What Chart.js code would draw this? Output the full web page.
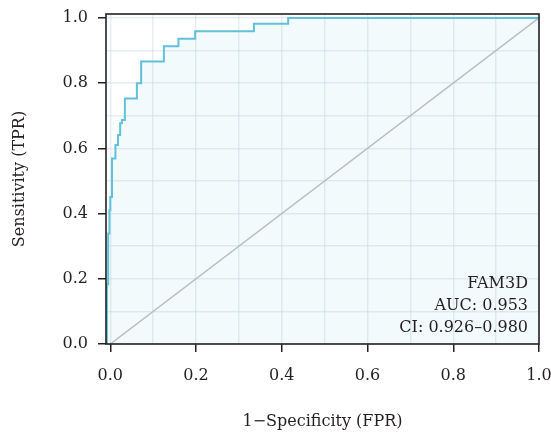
<!DOCTYPE html>
<html>
<head>
<meta charset="utf-8">
<script src="https://cdn.jsdelivr.net/npm/chart.js@4/dist/chart.umd.min.js"></script>
<style>
    html, body { margin: 0; padding: 0; background: #ffffff; }
</style>
</head>
<body>
<canvas id="roc" width="551" height="436"></canvas>
<script>
"use strict";

// ROC curve corners (FPR, TPR)
var fpr = [-0.008, -0.008, -0.005, -0.002, 0.0, 0.004, 0.012, 0.018, 0.023, 0.027, 0.034, 0.062, 0.072, 0.125, 0.159, 0.198, 0.335, 0.415, 1.0];
var tpr = [0.0, 0.183, 0.339, 0.41, 0.451, 0.569, 0.61, 0.641, 0.677, 0.687, 0.753, 0.80, 0.866, 0.913, 0.936, 0.959, 0.982, 1.0, 1.0];

// chance line
var chanceFpr = [0.0, 1.0];
var chanceTpr = [0.0, 1.0];

var gridValues = [0.0, 0.1, 0.2, 0.3, 0.4, 0.5, 0.6, 0.7, 0.8, 0.9, 1.0];
var tickLabels = ["0.0", "0.2", "0.4", "0.6", "0.8", "1.0"];
var annotationLines = ["FAM3D", "AUC: 0.953", "CI: 0.926\u20130.980"];

var FONT = "'DejaVu Serif', 'Liberation Serif', serif";
var TEXT_COLOR = "#231f20";

function toPoints(xs, ys) {
    var pts = [];
    for (var i = 0; i < xs.length; i++) {
        pts.push({x: xs[i], y: ys[i]});
    }
    return pts;
}

function isMajor(value) {
    return tickLabels.indexOf(Number(value).toFixed(1)) !== -1;
}

function axisOptions(min, max, title, isX) {
    return {
        type: "linear",
        min: min,
        max: max,
        afterBuildTicks: function (axis) {
            axis.ticks = gridValues.map(function (v) { return {value: v}; });
        },
        afterFit: function (axis) {
            // fixed box sizes so the plot frame lands where the figure has it
            if (isX) {
                axis.height = 92;
                axis.paddingLeft = 0;
                axis.paddingRight = 0;
            } else {
                axis.width = 106;
                axis.paddingTop = 0;
                axis.paddingBottom = 0;
            }
        },
        border: {display: false},
        grid: {
            color: "rgba(190, 210, 222, 0.38)",
            lineWidth: 1.5,
            tickLength: 8,
            tickWidth: 1.5,
            tickColor: function (ctx) {
                return isMajor(ctx.tick.value) ? "#222222" : "rgba(0,0,0,0)";
            },
        },
        ticks: {
            autoSkip: false,
            maxRotation: 0,
            padding: isX ? 14 : 10,
            color: TEXT_COLOR,
            font: {family: FONT, size: 16},
            callback: function (value) {
                return isMajor(value) ? Number(value).toFixed(1) : "";
            },
        },
        title: {
            display: true,
            text: title,
            color: TEXT_COLOR,
            font: {family: FONT, size: 16},
            padding: isX ? {top: 0, bottom: 5} : {top: 10, bottom: 0},
        },
    };
}

var frameAndLabel = {
    id: "frameAndLabel",
    afterDatasetsDraw: function (chart) {
        var ctx = chart.ctx;
        var area = chart.chartArea;
        ctx.save();
        ctx.strokeStyle = "#222222";
        ctx.lineWidth = 1.6;
        ctx.strokeRect(area.left, area.top, area.right - area.left, area.bottom - area.top);
        ctx.fillStyle = TEXT_COLOR;
        ctx.font = "16px " + FONT;
        ctx.textAlign = "right";
        ctx.textBaseline = "alphabetic";
        var n = annotationLines.length;
        for (var i = 0; i < n; i++) {
            ctx.fillText(annotationLines[i], area.right - 11, area.bottom - 12 - (n - 1 - i) * 22);
        }
        ctx.restore();
    },
};

new Chart(document.getElementById("roc"), {
    type: "line",
    data: {
        datasets: [
            {
                label: "FAM3D",
                data: toPoints(fpr, tpr),
                stepped: "before",
                borderColor: "#5ec2da",
                borderWidth: 2,
                backgroundColor: "rgba(120, 200, 225, 0.09)",
                fill: "origin",
                pointRadius: 0,
            },
            {
                label: "Chance",
                data: toPoints(chanceFpr, chanceTpr),
                borderColor: "#bdbdbd",
                borderWidth: 1.5,
                fill: false,
                pointRadius: 0,
            },
        ],
    },
    options: {
        responsive: false,
        animation: false,
        devicePixelRatio: 1,
        layout: {padding: {left: 0, top: 14, right: 12, bottom: 0}},
        plugins: {
            legend: {display: false},
            tooltip: {enabled: false},
        },
        scales: {
            x: axisOptions(-0.01, 1.0, "1\u2212Specificity (FPR)", true),
            y: axisOptions(0.0, 1.012, "Sensitivity (TPR)", false),
        },
    },
    plugins: [frameAndLabel],
});
</script>
</body>
</html>
